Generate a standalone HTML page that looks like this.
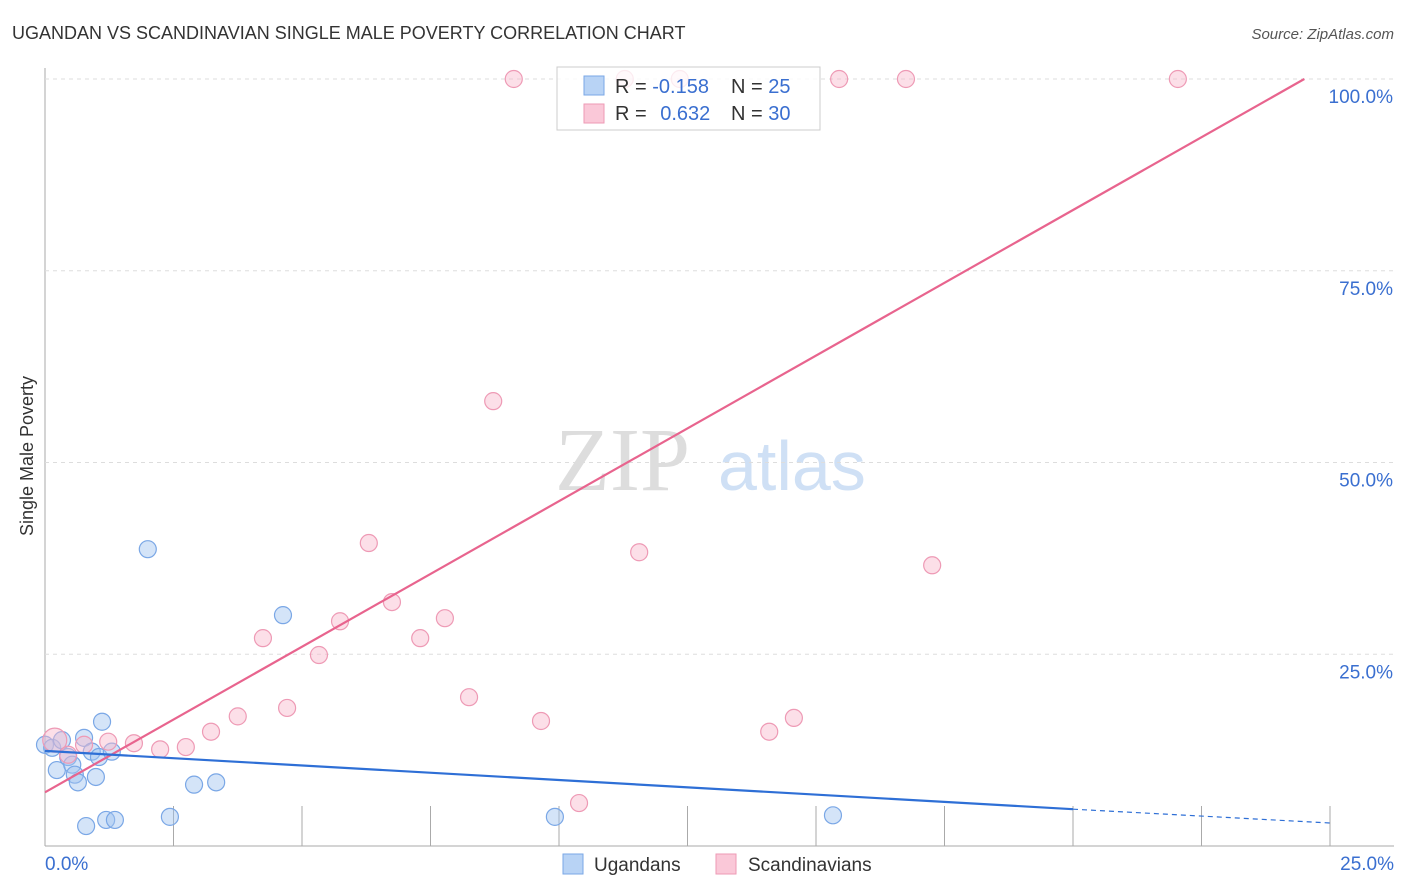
<!DOCTYPE html>
<html><head><meta charset="utf-8"><style>
body{margin:0;background:#fff;font-family:"Liberation Sans",sans-serif}
#wrap{position:relative;width:1406px;height:892px;overflow:hidden}
</style></head><body>
<div id="wrap">
<svg id="svg" width="1406" height="892" xmlns="http://www.w3.org/2000/svg">
<text x="12" y="39" font-size="18" fill="#333">UGANDAN VS SCANDINAVIAN SINGLE MALE POVERTY CORRELATION CHART</text>
<text x="1394" y="39" font-size="15" fill="#555" font-style="italic" text-anchor="end">Source: ZipAtlas.com</text>
<text x="33" y="456" font-size="18" fill="#333" text-anchor="middle" transform="rotate(-90 33 456)">Single Male Poverty</text>
<text x="555" y="490" font-size="90" fill="#ddd" font-family="Liberation Serif,serif">ZIP</text>
<text x="718" y="490" font-size="70" fill="#cfe0f5">atlas</text>
<g id="grid"></g><g id="marks"></g>
<g>
<rect x="557" y="67" width="263" height="63" fill="#fff" fill-opacity="0.8" stroke="#ccc"/>
<rect x="584" y="76" width="20" height="19" fill="#b8d3f5" stroke="#7aa7e6"/>
<rect x="584" y="104" width="20" height="19" fill="#fac8d8" stroke="#ee9ab5"/>
<text x="615" y="93" font-size="20" fill="#333">R = <tspan fill="#3a6fd0">-0.158</tspan></text>
<text x="731" y="93" font-size="20" fill="#333">N = <tspan fill="#3a6fd0">25</tspan></text>
<text x="615" y="120" font-size="20" fill="#333">R = <tspan fill="#3a6fd0" dx="8">0.632</tspan></text>
<text x="731" y="120" font-size="20" fill="#333">N = <tspan fill="#3a6fd0">30</tspan></text>
</g>
<g>
<rect x="563" y="854" width="20" height="20" fill="#b8d3f5" stroke="#7aa7e6"/>
<text x="594" y="871" font-size="19" fill="#333">Ugandans</text>
<rect x="716" y="854" width="20" height="20" fill="#fac8d8" stroke="#ee9ab5"/>
<text x="748" y="871" font-size="19" fill="#333">Scandinavians</text>
</g>
</svg></div>
<script>
const yTicks=[25,50,75,100];
const yTickLabels=["25.0%","50.0%","75.0%","100.0%"];
const xTicks=[0,2.5,5,7.5,10,12.5,15,17.5,20,22.5,25];
const xEndLabels=["0.0%","25.0%"];
const ugX=[0,0.14,0.23,0.33,0.45,0.53,0.58,0.64,0.76,0.8,0.91,0.99,1.05,1.11,1.19,1.3,1.36,2.0,2.43,2.9,3.33,4.63,9.92,15.33];
const ugY=[13.2,12.8,9.9,13.8,11.6,10.6,9.3,8.3,14.1,2.6,12.3,9.0,11.6,16.2,3.4,12.3,3.4,38.7,3.8,8.0,8.3,30.1,3.8,4.0];
const scX=[0.19,0.45,0.76,1.23,1.73,2.24,2.74,3.23,3.75,4.24,4.71,5.33,5.74,6.3,6.75,7.3,7.78,8.25,8.72,9.12,9.65,10.39,11.28,11.56,12.35,14.09,14.57,15.45,16.75,17.26,22.04];
const scY=[13.8,11.9,13.2,13.6,13.4,12.6,12.9,14.9,16.9,27.1,18.0,24.9,29.3,39.5,31.8,27.1,29.7,19.4,58.0,100,16.3,5.6,100,38.3,100,14.9,16.7,100,100,36.6,100];
const ugTrend=[12.4,4.8,3.0]; const ugTrendX=[0,20,25];
const scTrend=[7.0,100]; const scTrendX=[0,24.5];
const X=v=>45+v*51.4, Y=v=>846-v*7.67;
const NS="http://www.w3.org/2000/svg";
function mk(p,t,a){const e=document.createElementNS(NS,t);for(const k in a)e.setAttribute(k,a[k]);p.appendChild(e);return e;}
const g=document.getElementById('grid'), m=document.getElementById('marks');
let ax=mk(g,'line',{x1:45,y1:68,x2:45,y2:846,stroke:'#aaa'});

let bx=mk(g,'line',{x1:45,y1:846,x2:1394,y2:846,stroke:'#aaa'});

yTicks.forEach((t,i)=>{
 let l=mk(g,'line',{x1:45,y1:Y(t),x2:1394,y2:Y(t),stroke:'#ddd','stroke-dasharray':'4,4'});
 
 let tx=mk(g,'text',{x:1393,y:Y(t)+24,'font-size':19,fill:'#3a6fd0','text-anchor':'end'});tx.textContent=yTickLabels[i];
 
});
xTicks.forEach(t=>{if(t===0)return;
 let l=mk(g,'line',{x1:X(t),y1:806,x2:X(t),y2:846,stroke:'#aaa'});
 
});
[[0,'start',45],[25,'end',1394]].forEach((d,i)=>{
 let tx=mk(g,'text',{x:d[2],y:870,'font-size':19,fill:'#3a6fd0','text-anchor':d[1]});tx.textContent=xEndLabels[i];
 
});
ugX.forEach((v,i)=>{let c=mk(m,'circle',{cx:X(v),cy:Y(ugY[i]),r:8.5,fill:'rgba(160,196,240,0.45)',stroke:'#7aa7e6','stroke-width':1.2});
 });
scX.forEach((v,i)=>{let c=mk(m,'circle',{cx:X(v),cy:Y(scY[i]),r:i==0?12:8.5,fill:'rgba(248,184,204,0.45)',stroke:'#ee9ab5','stroke-width':1.2});
 });
let p=mk(m,'line',{x1:X(scTrendX[0]),y1:Y(scTrend[0]),x2:X(scTrendX[1]),y2:Y(scTrend[1]),stroke:'#e8648e','stroke-width':2.2});

let b1=mk(m,'line',{x1:X(ugTrendX[0]),y1:Y(ugTrend[0]),x2:X(ugTrendX[1]),y2:Y(ugTrend[1]),stroke:'#2e6fd6','stroke-width':2.2});

let b2=mk(m,'line',{x1:X(ugTrendX[1]),y1:Y(ugTrend[1]),x2:X(ugTrendX[2]),y2:Y(ugTrend[2]),stroke:'#2e6fd6','stroke-width':1.2,'stroke-dasharray':'5,4'});

</script>
</body></html>
